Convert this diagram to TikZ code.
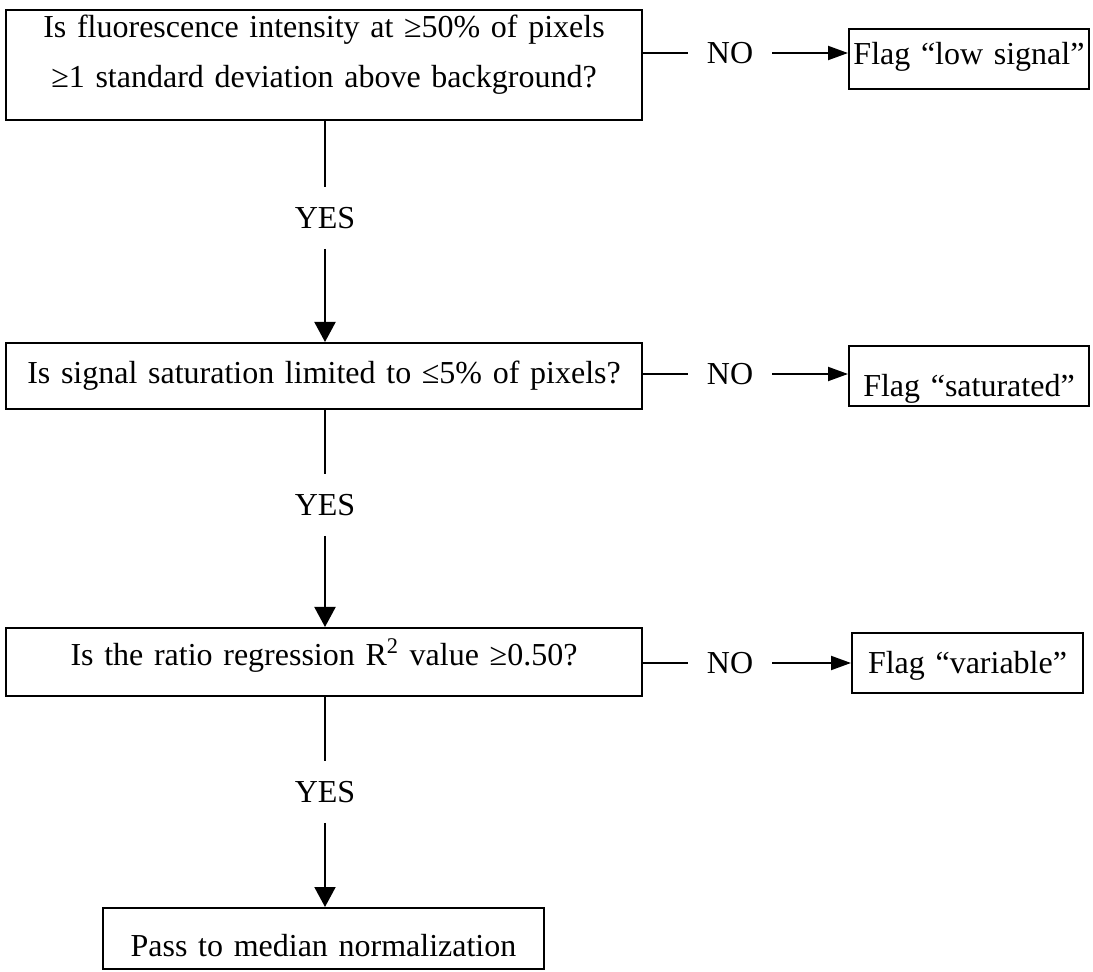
\documentclass[tikz,border=0pt]{standalone}
\usepackage{fontspec}
\setmainfont{Liberation Serif}
\usetikzlibrary{arrows.meta}

\begin{document}
\begin{tikzpicture}[x=0.5pt, y=-0.5pt, line width=1pt,
    every node/.style={font=\fontsize{16pt}{25pt}\selectfont, inner sep=0pt},
    qbox/.style={draw, line width=1pt, anchor=north west, text width=#1, align=center},
    qbox/.default=318pt,
    ans/.style={text height=10.5pt, text depth=0pt, inner xsep=9pt, inner ysep=9.75pt},
    down/.style={-{Triangle[width=10.5pt,length=10pt]}},
    side/.style={-{Triangle[width=7pt,length=10pt]}}]
    \useasboundingbox (0,0) rectangle (1093,972);
    % questions
    \node[qbox, text height=14pt, text depth=41pt] (q1) at (5,9) {Is fluorescence intensity at ≥50\% of pixels\\ ≥1 standard deviation above background?};
    \node[qbox, text height=20.5pt, text depth=12.5pt] (q2) at (5,342) {Is signal saturation limited to ≤5\% of pixels?};
    \node[qbox, text height=19pt, text depth=15pt] (q3) at (5,627) {Is the ratio regression R\textsuperscript{2} value ≥0.50?};
    \node[qbox=220.5pt, text height=24pt, text depth=6.5pt] (pass) at (102,907) {Pass to median normalization};
    % flags
    \node[qbox=120pt, text height=18pt, text depth=12pt] (low) at (848,28) {Flag “low signal”};
    \node[qbox=120pt, text height=25.5pt, text depth=4.5pt] (sat) at (848,345) {Flag “saturated”};
    \node[qbox=115.5pt, text height=20.5pt, text depth=9.5pt] (var) at (851,632) {Flag “variable”};
    % answers
    \node[ans] (yes1) at (325,218) {YES};
    \node[ans] (yes2) at (325,505) {YES};
    \node[ans] (yes3) at (325,792) {YES};
    \node[ans] (no1) at (730,53) {NO};
    \node[ans] (no2) at (730,374) {NO};
    \node[ans] (no3) at (730,663) {NO};
    % down the chain
    \draw (q1.south -| yes1) -- (yes1.north);
    \draw[down] (yes1.south) -- (yes1.south |- q2.north);
    \draw (q2.south -| yes2) -- (yes2.north);
    \draw[down] (yes2.south) -- (yes2.south |- q3.north);
    \draw (q3.south -| yes3) -- (yes3.north);
    \draw[down] (yes3.south) -- (yes3.south |- pass.north);
    % off to the flags
    \draw (q1.east |- no1) -- (no1.west);
    \draw[side] (no1.east) -- (no1.east -| low.west);
    \draw (q2.east |- no2) -- (no2.west);
    \draw[side] (no2.east) -- (no2.east -| sat.west);
    \draw (q3.east |- no3) -- (no3.west);
    \draw[side] (no3.east) -- (no3.east -| var.west);
\end{tikzpicture}
\end{document}
